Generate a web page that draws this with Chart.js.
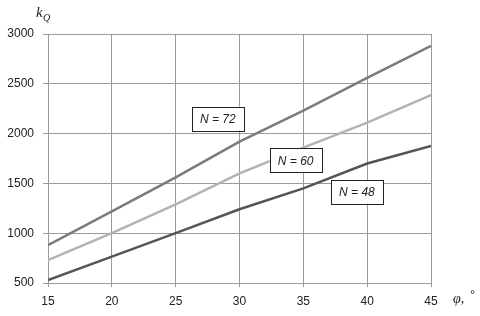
<!DOCTYPE html>
<html>
<head>
<meta charset="utf-8">
<script src="https://cdn.jsdelivr.net/npm/chart.js@4/dist/chart.umd.min.js"></script>
<style>
  html, body { margin: 0; padding: 0; background: #fff; }
  #wrap { width: 480px; height: 316px; }
</style>
</head>
<body>
<div id="wrap"><canvas id="chart" width="480" height="316"></canvas></div>
<script>
"use strict";

// Data
const angles = [15, 20, 25, 30, 35, 40, 45];
const kN72 = [880, 1220, 1560, 1920, 2230, 2560, 2880];
const kN60 = [730, 1000, 1290, 1600, 1860, 2110, 2385];
const kN48 = [530, 765, 1000, 1240, 1450, 1700, 1875];
const seriesNames = ["N = 72", "N = 60", "N = 48"];
// where each boxed label sits (angle, k value)
const labelAt = [[28.3, 2150], [34.4, 1730], [39.2, 1415]];

const fontFamily = "'Liberation Sans', 'DejaVu Sans', sans-serif";

function toPoints(values) {
  return angles.map((a, i) => ({ x: a, y: values[i] }));
}

// Draws the boxed series labels and the axis titles
const labelsPlugin = {
  id: "labels",
  afterDatasetsDraw(chart) {
    const ctx = chart.ctx;
    const xs = chart.scales.x;
    const ys = chart.scales.y;
    const area = chart.chartArea;
    ctx.save();
    ctx.font = "italic 12px " + fontFamily;
    ctx.textAlign = "center";
    ctx.textBaseline = "middle";
    for (let i = 0; i < seriesNames.length; i++) {
      const cx = xs.getPixelForValue(labelAt[i][0]);
      const cy = ys.getPixelForValue(labelAt[i][1]);
      const w = 52, h = 24;
      ctx.fillStyle = "#fff";
      ctx.fillRect(cx - w / 2, cy - h / 2, w, h);
      ctx.strokeStyle = "#222";
      ctx.lineWidth = 1;
      ctx.strokeRect(Math.round(cx - w / 2) + 0.5, Math.round(cy - h / 2) + 0.5, w, h);
      ctx.fillStyle = "#222";
      ctx.fillText(seriesNames[i], cx, cy + 1);
    }
    // y axis title k_Q
    ctx.textAlign = "left";
    ctx.textBaseline = "alphabetic";
    ctx.font = "italic 15px 'Liberation Serif', serif";
    ctx.fillText("k", area.left - 12, area.top - 17);
    ctx.font = "italic 10px 'Liberation Serif', serif";
    ctx.fillText("Q", area.left - 5, area.top - 13);
    // x axis title φ, °
    ctx.font = "italic 14px 'Liberation Serif', serif";
    ctx.fillText("\u03C6,", area.right + 22, area.bottom + 20);
    ctx.font = "13px " + fontFamily;
    ctx.fillText("\u00B0", area.right + 39, area.bottom + 16);
    ctx.restore();
  },
};

const ctx = document.getElementById("chart").getContext("2d");
const chart = new Chart(ctx, {
  type: "line",
  data: {
    datasets: [
      { label: seriesNames[0], data: toPoints(kN72), borderColor: "#7b7b7b" },
      { label: seriesNames[1], data: toPoints(kN60), borderColor: "#b3b3b3" },
      { label: seriesNames[2], data: toPoints(kN48), borderColor: "#555555" },
    ],
  },
  options: {
    responsive: false,
    animation: false,
    devicePixelRatio: 1,
    layout: { padding: { top: 34, right: 49, left: 0, bottom: 0 } },
    elements: {
      line: { borderWidth: 2.5, tension: 0 },
      point: { radius: 0 },
    },
    scales: {
      x: {
        type: "linear",
        min: 15,
        max: 45,
        ticks: { stepSize: 5, color: "#222", font: { family: fontFamily, size: 12 }, padding: 7, callback: (v) => String(v) },
        grid: { color: "#9a9a9a", tickLength: 4 },
        border: { color: "#9a9a9a" },
        afterFit(scale) { scale.height = 33; },
      },
      y: {
        min: 500,
        max: 3000,
        ticks: { stepSize: 500, color: "#222", font: { family: fontFamily, size: 12 }, padding: 9, callback: (v) => String(v) },
        grid: { color: "#9a9a9a", tickLength: 5 },
        border: { color: "#9a9a9a" },
        afterFit(scale) { scale.width = 48; },
      },
    },
    plugins: {
      legend: { display: false },
      tooltip: { enabled: false },
    },
  },
  plugins: [labelsPlugin],
});
</script>
</body>
</html>
